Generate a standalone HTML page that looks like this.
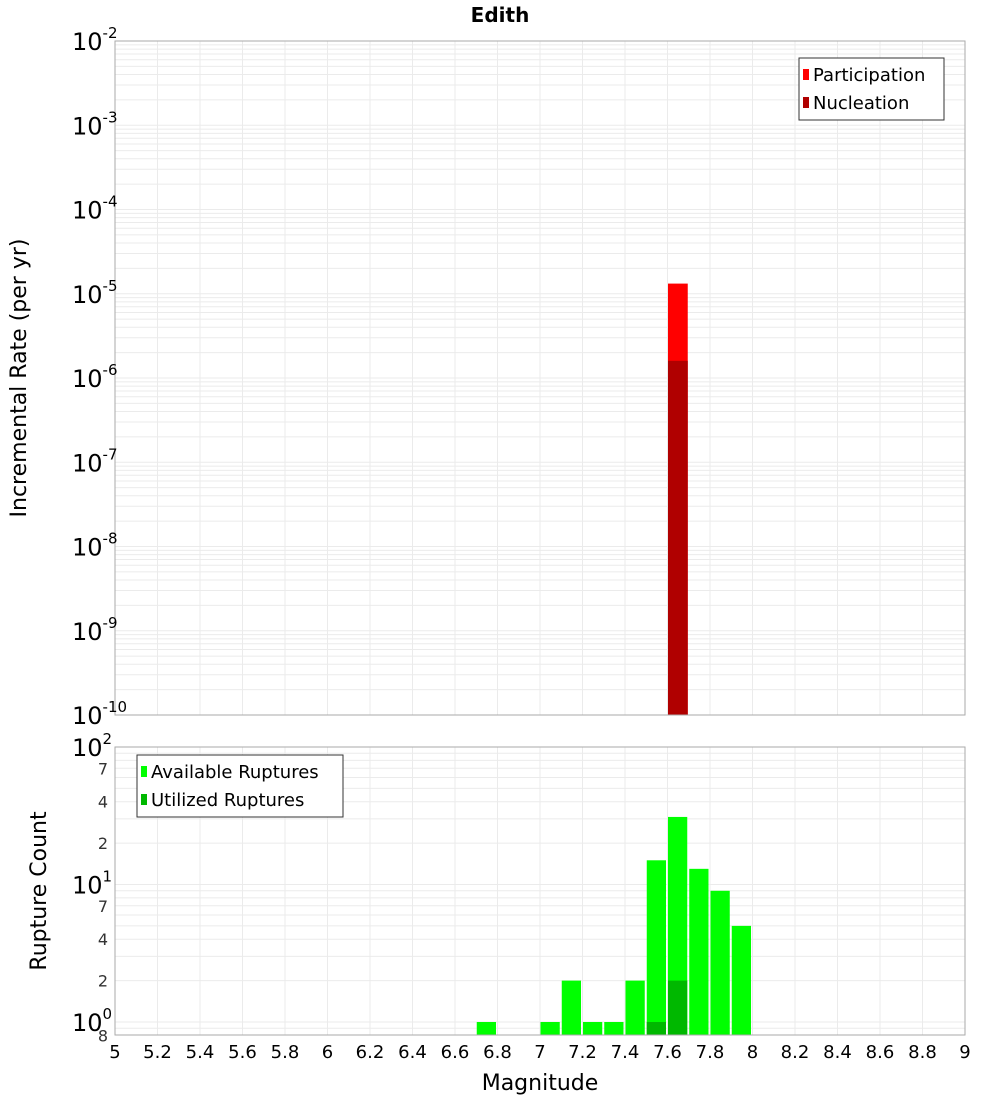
<!DOCTYPE html>
<html><head><meta charset="utf-8"><style>
body{margin:0;background:#fff;font-family:"Liberation Sans","DejaVu Sans",sans-serif}
svg text{font-family:"DejaVu Sans","Liberation Sans",sans-serif}
</style></head><body>
<svg id="c" width="1000" height="1100" xmlns="http://www.w3.org/2000/svg"></svg>
<script>
const binStarts=[6.7,7.0,7.1,7.2,7.3,7.4,7.5,7.6,7.7,7.8,7.9];
const availableCounts=[1,1,2,1,1,2,15,31,13,9,5];
const utilizedBins=[7.5,7.6];
const utilizedCounts=[1,2];
const rateBins=[7.6];
const participationRates=[1.32e-5];
const nucleationRates=[1.6e-6];
const xTicks=[5,5.2,5.4,5.6,5.8,6,6.2,6.4,6.6,6.8,7,7.2,7.4,7.6,7.8,8,8.2,8.4,8.6,8.8,9];
const topExps=[-2,-3,-4,-5,-6,-7,-8,-9,-10];
const botExps=[2,1,0];
const botMinorLabels=[[7,70],[4,40],[2,20],[7,7],[4,4],[2,2],[8,0.8]];

const NS="http://www.w3.org/2000/svg",svg=document.getElementById('c');
function el(t,a,p){const e=document.createElementNS(NS,t);for(const k in a)e.setAttribute(k,a[k]);(p||svg).appendChild(e);return e;}
const L=115,R=965;
const X=v=>L+(v-5)/4*(R-L);
const T0=41,T1=715;const YT=v=>T0+(-2-Math.log10(v))/8*(T1-T0);
const B0=747,B1=1035,BD=137.5;const YB=v=>B0+(2-Math.log10(v))*BD;

// title
let t=el('text',{x:500,y:22,'text-anchor':'middle','font-size':20,'font-weight':'bold'});t.textContent='Edith';


function grid(top,bot,yf,decLo,decHi){
  const g=el('g',{});
  for(let d=decLo;d<decHi;d++)for(let m=1;m<10;m++){const v=m*Math.pow(10,d);const y=yf(v);if(y<top||y>bot)continue;
    const l=el('line',{x1:L,x2:R,y1:y,y2:y,stroke:'#ebebeb','stroke-width':1},g);
    }
  xTicks.forEach(v=>{const l=el('line',{x1:X(v),x2:X(v),y1:top,y2:bot,stroke:'#ebebeb'},g);
    });
}
grid(T0,T1,YT,-10,-1);
grid(B0,B1,YB,-1,2);

// top bars
rateBins.forEach((b,i)=>{
  let r=el('rect',{x:X(b)+0.5,y:YT(participationRates[i]),width:X(b+0.1)-X(b)-1.5,height:T1-YT(participationRates[i]),fill:'#ff0000'});
  
  r=el('rect',{x:X(b)+0.5,y:YT(nucleationRates[i]),width:X(b+0.1)-X(b)-1.5,height:T1-YT(nucleationRates[i]),fill:'#b00000'});
  
});
// bottom bars
binStarts.forEach((b,i)=>{
  const r=el('rect',{x:X(b)+0.5,y:YB(availableCounts[i]),width:X(b+0.1)-X(b)-2,height:B1-YB(availableCounts[i]),fill:'#00ff00'});
  
});
utilizedBins.forEach((b,i)=>{
  const r=el('rect',{x:X(b)+0.5,y:YB(utilizedCounts[i]),width:X(b+0.1)-X(b)-2,height:B1-YB(utilizedCounts[i]),fill:'#00b800'});
  
});

// frames
let f=el('rect',{x:L,y:T0,width:R-L,height:T1-T0,fill:'none',stroke:'#aaa'});

f=el('rect',{x:L,y:B0,width:R-L,height:B1-B0,fill:'none',stroke:'#aaa'});


function powLabel(y,e,name){
  const tx=el('text',{x:103,y:y+9,'text-anchor':'end','font-size':24});
  
  const a=el('tspan',{},tx);a.textContent='10';
  const s=el('tspan',{dy:-12,'font-size':15},tx);s.textContent=String(e);
  tx.setAttribute('text-anchor','start');tx.setAttribute('x',72);
}
topExps.forEach(e=>powLabel(YT(Math.pow(10,e)),e,'y-tick-label'));
botExps.forEach(e=>powLabel(YB(Math.pow(10,e)),e,'y-tick-label-bottom'));
botMinorLabels.forEach(([lab,v])=>{
  const tx=el('text',{x:108,y:YB(v)+6,'text-anchor':'end','font-size':16,fill:'#333'});tx.textContent=lab;
  
});
xTicks.forEach(v=>{
  const tx=el('text',{x:X(v),y:1058,'text-anchor':'middle','font-size':18});tx.textContent=String(v);
  
});
t=el('text',{x:540,y:1090,'text-anchor':'middle','font-size':22});t.textContent='Magnitude';

t=el('text',{x:0,y:0,'text-anchor':'middle','font-size':22,transform:'translate(26,378) rotate(-90)'});t.textContent='Incremental Rate (per yr)';

t=el('text',{x:0,y:0,'text-anchor':'middle','font-size':22,transform:'translate(46,891) rotate(-90)'});t.textContent='Rupture Count';


function legend(x,y,w,items,name){
  const g=el('g',{});
  el('rect',{x:x,y:y,width:w,height:items.length*28+6,fill:'#fff',stroke:'#333'},g);
  items.forEach(([lab,col],i)=>{
    const sw=el('rect',{x:x+4,y:y+11+i*28,width:6,height:11,fill:col},g);
    
    const tx=el('text',{x:x+14,y:y+23+i*28,'font-size':18},g);tx.textContent=lab;
    
  });
}
legend(799,58,145,[['Participation','#ff0000'],['Nucleation','#b00000']],'legend-top');
legend(137,755,206,[['Available Ruptures','#00ff00'],['Utilized Ruptures','#00b800']],'legend-bottom');
</script>
</body></html>
